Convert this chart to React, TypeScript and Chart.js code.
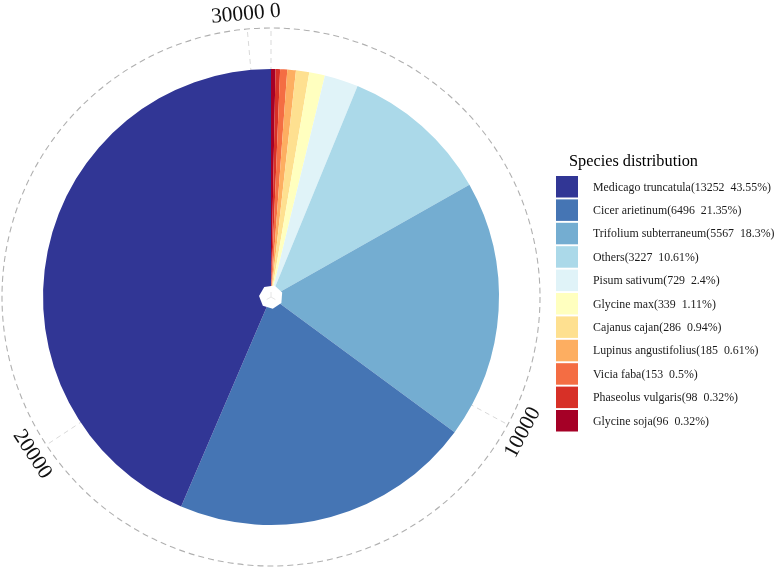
import React, { useEffect, useRef } from "react";
import { Chart, registerables } from "chart.js";

Chart.register(...registerables);

// Legend order (largest first)
const species = [
  "Medicago truncatula",
  "Cicer arietinum",
  "Trifolium subterraneum",
  "Others",
  "Pisum sativum",
  "Glycine max",
  "Cajanus cajan",
  "Lupinus angustifolius",
  "Vicia faba",
  "Phaseolus vulgaris",
  "Glycine soja",
];
const counts = [13252, 6496, 5567, 3227, 729, 339, 286, 185, 153, 98, 96];
const percents = ["43.55%", "21.35%", "18.3%", "10.61%", "2.4%", "1.11%", "0.94%", "0.61%", "0.5%", "0.32%", "0.32%"];
const colors = [
  "#313695",
  "#4575B4",
  "#74ADD1",
  "#ABD9E9",
  "#E0F3F8",
  "#FFFFBF",
  "#FEE090",
  "#FDAE61",
  "#F46D43",
  "#D73027",
  "#A50026",
];
const axisTicks = [0, 10000, 20000, 30000];
const legendTitle = "Species distribution";

const SERIF = '"Liberation Serif", "Times New Roman", serif';

const legendLabels = species.map((s, i) => `${s}(${counts[i]}  ${percents[i]})`);

// Slices drawn clockwise from top: smallest first
const pieLabels = [...species].reverse();
const pieData = [...counts].reverse();
const pieColors = [...colors].reverse();

const decorPlugin = {
  id: "polarDecor",
  beforeDatasetsDraw(chart: any) {
    const meta = chart.getDatasetMeta(0);
    const arc = meta.data[0];
    if (!arc) return;
    const { x, y, outerRadius } = arc.getProps(["x", "y", "outerRadius"], true);
    const total = pieData.reduce((a, b) => a + b, 0);
    const gridR = outerRadius * (269 / 228);
    const ctx = chart.ctx;
    ctx.save();
    // radial grid lines
    ctx.strokeStyle = "#d9d9d9";
    ctx.lineWidth = 1;
    ctx.setLineDash([5, 4]);
    for (const t of axisTicks) {
      const a = -Math.PI / 2 + (t / total) * Math.PI * 2;
      ctx.beginPath();
      ctx.moveTo(x, y);
      ctx.lineTo(x + gridR * Math.cos(a), y + gridR * Math.sin(a));
      ctx.stroke();
    }
    // outer dashed circle
    ctx.strokeStyle = "#b0b0b0";
    ctx.lineWidth = 1.1;
    ctx.setLineDash([6, 4]);
    ctx.beginPath();
    ctx.arc(x, y, gridR, 0, Math.PI * 2);
    ctx.stroke();
    ctx.restore();
  },
  afterDatasetsDraw(chart: any) {
    const meta = chart.getDatasetMeta(0);
    const arc = meta.data[0];
    if (!arc) return;
    const { x, y, outerRadius } = arc.getProps(["x", "y", "outerRadius"], true);
    const ctx = chart.ctx;
    ctx.save();
    // small white hole at the centre
    const hr = outerRadius * (12 / 228);
    ctx.fillStyle = "#ffffff";
    ctx.beginPath();
    for (let k = 0; k < 7; k++) {
      const a = -Math.PI / 2 + (k / 7) * Math.PI * 2 + 0.3;
      const px = x + hr * Math.cos(a);
      const py = y + hr * Math.sin(a);
      if (k === 0) ctx.moveTo(px, py);
      else ctx.lineTo(px, py);
    }
    ctx.closePath();
    ctx.fill();
    ctx.strokeStyle = "#e6e6e6";
    ctx.lineWidth = 1;
    for (const ang of [-Math.PI / 2, Math.PI / 6, (5 * Math.PI) / 6]) {
      ctx.beginPath();
      ctx.moveTo(x, y);
      ctx.lineTo(x + 5 * Math.cos(ang), y + 5 * Math.sin(ang));
      ctx.stroke();
    }
    ctx.restore();
  },
  afterDraw(chart: any) {
    const meta = chart.getDatasetMeta(0);
    const arc = meta.data[0];
    if (!arc) return;
    const { x, y, outerRadius } = arc.getProps(["x", "y", "outerRadius"], true);
    const total = pieData.reduce((a, b) => a + b, 0);
    const labelR = outerRadius * (285 / 228);
    const ctx = chart.ctx;
    ctx.save();

    // axis tick labels (combine ends when they nearly coincide)
    let ticks = axisTicks.map((t) => ({ v: t, text: String(t) }));
    const last = ticks[ticks.length - 1];
    if ((total - last.v) / total < 0.05) {
      last.text = `${last.text} ${ticks[0].text}`;
      ticks = ticks.slice(1);
    }
    ctx.fillStyle = "#111111";
    ctx.font = `21.5px ${SERIF}`;
    ctx.textAlign = "center";
    ctx.textBaseline = "middle";
    for (const t of ticks) {
      const deg = (t.v / total) * 360;
      const a = -Math.PI / 2 + (deg * Math.PI) / 180;
      const px = x + labelR * Math.cos(a);
      const py = y + labelR * Math.sin(a);
      let rot = deg;
      if (rot > 270) rot -= 360;
      else if (rot > 90) rot -= 180;
      ctx.save();
      ctx.translate(px, py);
      ctx.rotate((rot * Math.PI) / 180);
      ctx.fillText(t.text, 0, 1);
      ctx.restore();
    }

    // legend
    const lx = 556;
    const titleY = 161;
    const top0 = 176;
    const pitch = 23.4;
    const bw = 22;
    const bh = 21.5;
    const titleWidth = 129;
    const textWidth = 178;
    ctx.textAlign = "left";
    ctx.textBaseline = "middle";
    ctx.fillStyle = "#000000";
    ctx.font = `17.5px ${SERIF}`;
    const tsx = Math.min(1, titleWidth / ctx.measureText(legendTitle).width);
    ctx.save();
    ctx.translate(lx + 13, titleY);
    ctx.scale(tsx, 1);
    ctx.fillText(legendTitle, 0, 0);
    ctx.restore();

    ctx.font = `13px ${SERIF}`;
    const sx = Math.min(1, textWidth / ctx.measureText(legendLabels[0]).width);
    legendLabels.forEach((lab, i) => {
      const by = top0 + i * pitch;
      ctx.fillStyle = colors[i];
      ctx.fillRect(lx, by, bw, bh);
      ctx.fillStyle = "#1a1a1a";
      ctx.save();
      ctx.translate(lx + 37, by + bh / 2 + 0.5);
      ctx.scale(sx, 1);
      ctx.fillText(lab, 0, 0);
      ctx.restore();
    });
    ctx.restore();
  },
};

export default function App() {
  const ref = useRef<HTMLCanvasElement | null>(null);
  useEffect(() => {
    if (!ref.current) return;
    const chart = new Chart(ref.current, {
      type: "pie",
      data: {
        labels: pieLabels,
        datasets: [
          {
            data: pieData,
            backgroundColor: pieColors,
            borderWidth: 0,
          },
        ],
      },
      options: {
        responsive: false,
        animation: false,
        layout: { padding: { left: 43, top: 69, right: 279, bottom: 44 } },
        plugins: {
          legend: { display: false },
          tooltip: { enabled: false },
          title: { display: false },
        },
      },
      plugins: [decorPlugin],
    });
    return () => chart.destroy();
  }, []);
  return (
    <div style={{ position: "fixed", left: 0, top: 0, width: 778, height: 569, background: "#ffffff" }}>
      <canvas ref={ref} width={778} height={569} style={{ display: "block" }} />
    </div>
  );
}
